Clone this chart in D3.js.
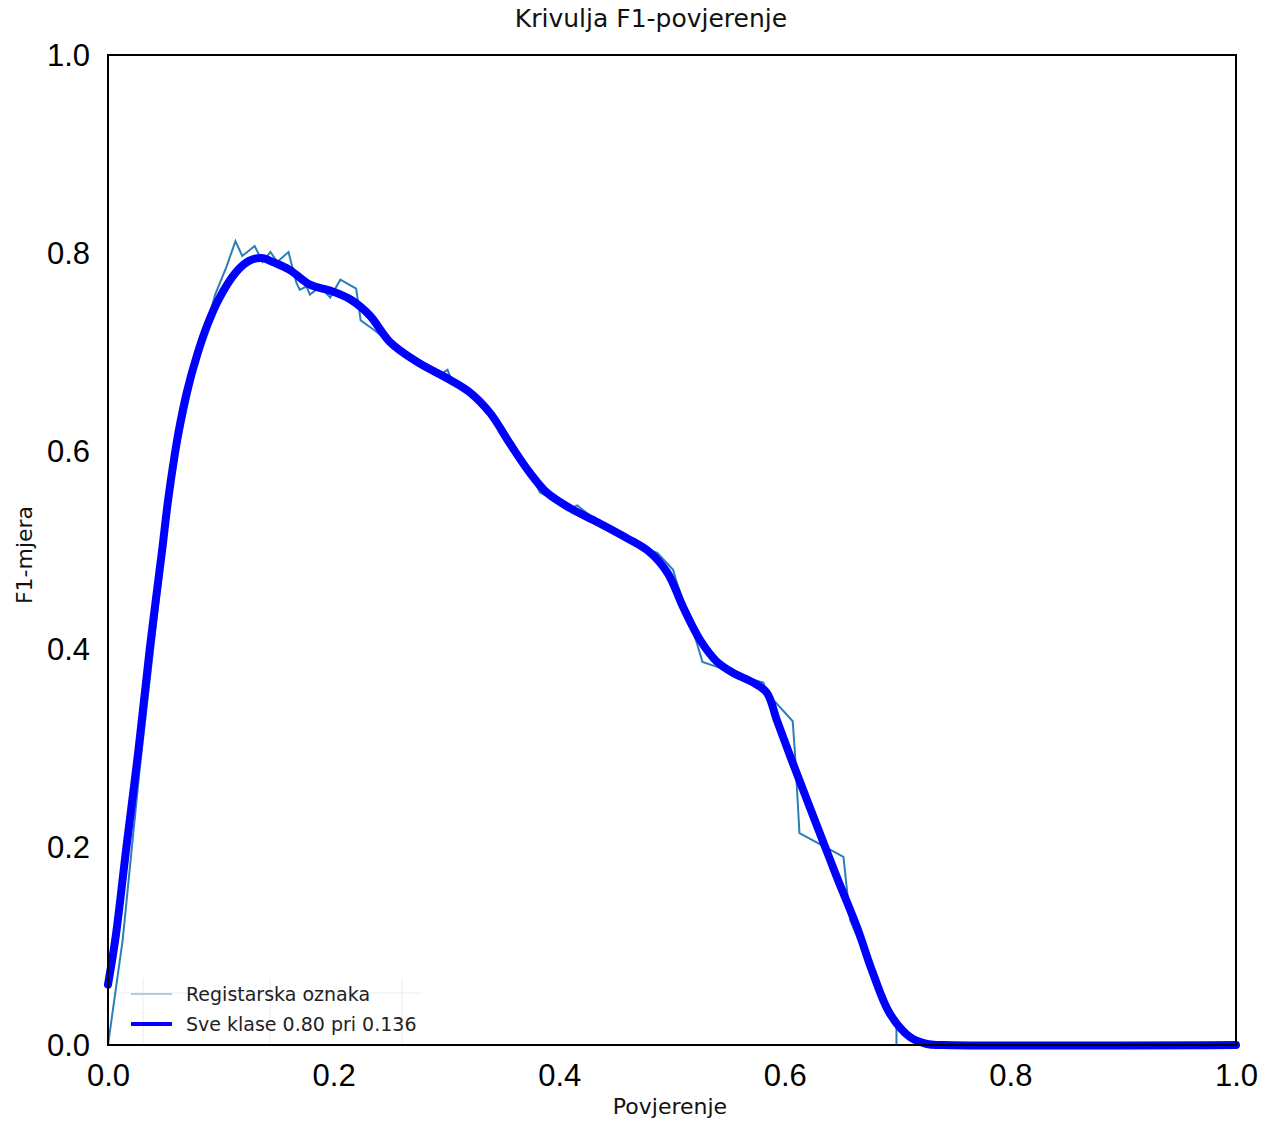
<!DOCTYPE html>
<html>
<head>
<meta charset="utf-8">
<script src="https://cdn.jsdelivr.net/npm/d3@7"></script>
<style>
  html, body { margin: 0; padding: 0; background: #fff; }
  svg { display: block; }
</style>
</head>
<body>
<script>
// ---- Data ----
const chartTitle = "Krivulja F1-povjerenje";
const xLabel = "Povjerenje";
const yLabel = "F1-mjera";
const xTicks = [0.0, 0.2, 0.4, 0.6, 0.8, 1.0];
const yTicks = [0.0, 0.2, 0.4, 0.6, 0.8, 1.0];
const legendLabels = ["Registarska oznaka", "Sve klase 0.80 pri 0.136"];

// Per-class (thin) curve: confidence
const classX = [0.000, 0.013, 0.028, 0.046, 0.058, 0.079, 0.095, 0.105, 0.113, 0.119, 0.130, 0.137, 0.144, 0.150,
  0.160, 0.167, 0.170, 0.176, 0.179, 0.188, 0.197, 0.206, 0.220, 0.224, 0.235, 0.250, 0.274, 0.294, 0.301,
  0.305, 0.321, 0.339, 0.356, 0.374, 0.383, 0.410, 0.416, 0.436, 0.454, 0.480, 0.487, 0.501, 0.504, 0.522,
  0.527, 0.540, 0.560, 0.581, 0.584, 0.607, 0.609, 0.613, 0.652, 0.658, 0.671, 0.684, 0.699, 0.699, 1.000];
// Per-class (thin) curve: F1
const classY = [0.000, 0.106, 0.278, 0.460, 0.581, 0.692, 0.758, 0.786, 0.812, 0.797, 0.807, 0.791, 0.801, 0.791,
  0.801, 0.770, 0.763, 0.766, 0.758, 0.766, 0.755, 0.773, 0.764, 0.732, 0.723, 0.710, 0.690, 0.677, 0.682,
  0.670, 0.659, 0.638, 0.608, 0.578, 0.558, 0.542, 0.545, 0.527, 0.515, 0.500, 0.497, 0.480, 0.468, 0.406,
  0.387, 0.382, 0.373, 0.366, 0.356, 0.327, 0.295, 0.214, 0.190, 0.126, 0.091, 0.056, 0.025, 0.000, 0.000];

// All classes (thick) curve: confidence
const allX = [0.000, 0.007, 0.016, 0.027, 0.037, 0.048, 0.053, 0.059, 0.064, 0.070, 0.079, 0.088, 0.098, 0.113,
  0.125, 0.136, 0.148, 0.161, 0.179, 0.197, 0.215, 0.232, 0.250, 0.274, 0.303, 0.321, 0.339, 0.356, 0.374,
  0.389, 0.410, 0.434, 0.460, 0.480, 0.496, 0.510, 0.525, 0.540, 0.554, 0.572, 0.584, 0.593, 0.605, 0.629,
  0.646, 0.664, 0.678, 0.693, 0.711, 0.726, 0.740, 1.000];
// All classes (thick) curve: F1
const allY = [0.061, 0.111, 0.197, 0.298, 0.400, 0.500, 0.548, 0.595, 0.628, 0.660, 0.697, 0.727, 0.753, 0.780,
  0.792, 0.795, 0.790, 0.783, 0.768, 0.762, 0.753, 0.737, 0.710, 0.690, 0.672, 0.659, 0.638, 0.608, 0.578,
  0.558, 0.542, 0.528, 0.512, 0.498, 0.477, 0.442, 0.409, 0.387, 0.376, 0.366, 0.356, 0.328, 0.291, 0.220,
  0.170, 0.119, 0.073, 0.032, 0.008, 0.001, 0.000, 0.000];

// ---- Layout ----
const W = 1268, H = 1122;
const mLeft = 108, mRight = 1236, mTop = 55, mBottom = 1045;

const svg = d3.select("body").append("svg").attr("width", W).attr("height", H);

const x = d3.scaleLinear().domain([0, 1]).range([mLeft, mRight]);
const y = d3.scaleLinear().domain([0, 1]).range([mBottom, mTop]);

// faint grid artifacts behind legend
const lg = svg.append("g").attr("stroke", "#ececec").attr("stroke-width", 1);
[143, 270, 402].forEach(px => lg.append("line").attr("x1", px).attr("x2", px).attr("y1", 978).attr("y2", 1044));
lg.append("line").attr("x1", 110).attr("x2", 422).attr("y1", 993).attr("y2", 993);

// lines
const classData = classX.map((v, i) => [v, classY[i]]);
const allData = allX.map((v, i) => [v, allY[i]]);

const plot = svg.append("g");
plot.append("path")
  .datum(classData)
  .attr("fill", "none")
  .attr("stroke", "#2b7fb8")
  .attr("stroke-width", 2)
  .attr("stroke-linejoin", "miter")
  .attr("d", d3.line().x(d => x(d[0])).y(d => y(d[1])));

plot.append("path")
  .datum(allData)
  .attr("fill", "none")
  .attr("stroke", "#0000ff")
  .attr("stroke-width", 8)
  .attr("stroke-linejoin", "round")
  .attr("stroke-linecap", "round")
  .attr("d", d3.line().curve(d3.curveCatmullRom.alpha(0.5)).x(d => x(d[0])).y(d => y(Math.max(0, d[1]))));

// frame
svg.append("rect")
  .attr("x", mLeft).attr("y", mTop)
  .attr("width", mRight - mLeft).attr("height", mBottom - mTop)
  .attr("fill", "none").attr("stroke", "#000").attr("stroke-width", 2);

// axes (no tick marks)
const xAxis = svg.append("g").attr("transform", `translate(0,${mBottom})`)
  .call(d3.axisBottom(x).tickValues(xTicks).tickFormat(d3.format(".1f")).tickSize(0).tickPadding(18));
const yAxis = svg.append("g").attr("transform", `translate(${mLeft},0)`)
  .call(d3.axisLeft(y).tickValues(yTicks).tickFormat(d3.format(".1f")).tickSize(0).tickPadding(18));
[xAxis, yAxis].forEach(a => {
  a.select(".domain").remove();
  a.selectAll("text")
    .attr("font-family", "'Liberation Sans', Arial, sans-serif")
    .attr("font-size", 31)
    .attr("fill", "#000");
});
xAxis.selectAll("text").attr("dy", "0.71em").attr("y", 19);
yAxis.selectAll("text").attr("dy", "0.35em").attr("x", -18);

// title & labels
svg.append("text")
  .attr("x", 651).attr("y", 27)
  .attr("text-anchor", "middle")
  .attr("font-family", "'DejaVu Sans', sans-serif")
  .attr("font-size", 25)
  .attr("fill", "#111")
  .text(chartTitle);

svg.append("text")
  .attr("x", 670).attr("y", 1114)
  .attr("text-anchor", "middle")
  .attr("font-family", "'DejaVu Sans', sans-serif")
  .attr("font-size", 22)
  .attr("fill", "#111")
  .text(xLabel);

svg.append("text")
  .attr("transform", "translate(32,555) rotate(-90)")
  .attr("text-anchor", "middle")
  .attr("font-family", "'DejaVu Sans', sans-serif")
  .attr("font-size", 22)
  .attr("fill", "#111")
  .text(yLabel);

// legend
const legend = svg.append("g");
const legendStyles = [
  { color: "#a9cfe0", width: 2 },
  { color: "#0000ff", width: 4 }
];
legendLabels.forEach((lab, i) => {
  const ly = 994 + i * 30;
  legend.append("line")
    .attr("x1", 131).attr("x2", 172).attr("y1", ly).attr("y2", ly)
    .attr("stroke", legendStyles[i].color).attr("stroke-width", legendStyles[i].width);
  legend.append("text")
    .attr("x", 186).attr("y", ly).attr("dy", "0.35em")
    .attr("font-family", "'DejaVu Sans', sans-serif")
    .attr("font-size", 19)
    .attr("fill", "#222")
    .text(lab);
});
</script>
</body>
</html>
